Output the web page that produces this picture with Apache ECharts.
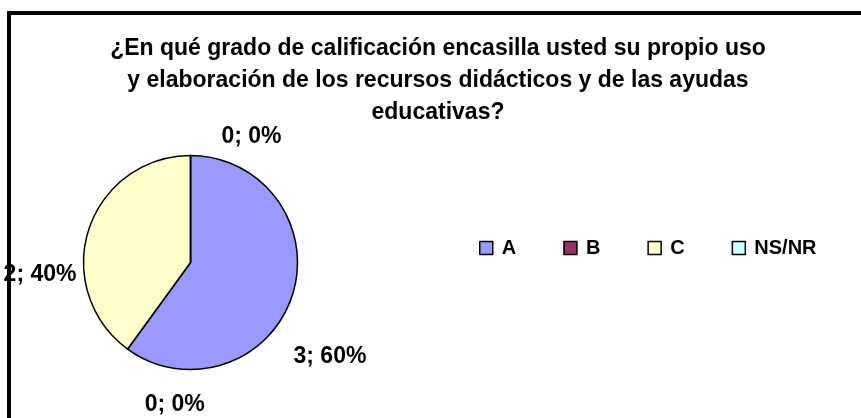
<!DOCTYPE html>
<html>
<head>
<meta charset="utf-8">
<script src="https://cdn.jsdelivr.net/npm/echarts@6/dist/echarts.min.js"></script>
<style>
  html, body { margin: 0; padding: 0; background: #fff; }
  #chart { width: 861px; height: 418px; }
</style>
</head>
<body>
<div id="chart"></div>
<script>
// data
var categories = ['A', 'B', 'C', 'NS/NR'];
var counts = [3, 0, 2, 0];
var colors = ['#9999FF', '#993366', '#FFFFCC', '#CCFFFF'];
var titleLines = [
  '¿En qué grado de calificación encasilla usted su propio uso',
  'y elaboración de los recursos didácticos y de las ayudas',
  'educativas?'
];

// nudges so the labels sit where Excel put them
var labelNudge = [[-48, 56], [121, 43], [37, 50], [126, -4]];

var chart = echarts.init(document.getElementById('chart'));

var pieData = categories.map(function (name, i) {
  return { name: name, value: counts[i], itemStyle: { color: colors[i] } };
});

chart.setOption({
  animation: false,
  textStyle: { fontFamily: 'Liberation Sans, Arial, sans-serif' },
  title: {
    text: titleLines.join('\n'),
    left: 433,
    top: 28,
    textAlign: 'center',
    textStyle: {
      fontSize: 23,
      fontWeight: 'bold',
      color: '#000',
      lineHeight: 32
    }
  },
  legend: {
    data: categories,
    left: 479,
    top: 238,
    padding: 0,
    itemWidth: 13,
    itemHeight: 13,
    itemGap: 47,
    icon: 'rect',
    itemStyle: { borderColor: '#000', borderWidth: 1.5 },
    formatter: '{n|{name}}',
    textStyle: {
      rich: {
        n: { padding: [0, 0, 0, 4], fontSize: 20, fontWeight: 'bold', color: '#000' }
      }
    }
  },
  series: [{
    type: 'pie',
    center: [190.5, 262.5],
    radius: 107,
    startAngle: 90,
    clockwise: true,
    avoidLabelOverlap: false,
    data: pieData,
    itemStyle: { borderColor: '#000', borderWidth: 1.5 },
    label: {
      show: true,
      position: 'outside',
      formatter: '{c}; {d}%',
      fontSize: 23,
      fontWeight: 'bold',
      color: '#000'
    },
    labelLayout: function (params) {
      var n = labelNudge[params.dataIndex];
      return { dx: n[0], dy: n[1] };
    },
    labelLine: { show: false },
    emphasis: { disabled: true }
  }],
  graphic: [{
    type: 'rect',
    z: 100,
    shape: { x: 9, y: 13, width: 900, height: 500 },
    style: { fill: null, stroke: '#000', lineWidth: 4 }
  }]
});
</script>
</body>
</html>
